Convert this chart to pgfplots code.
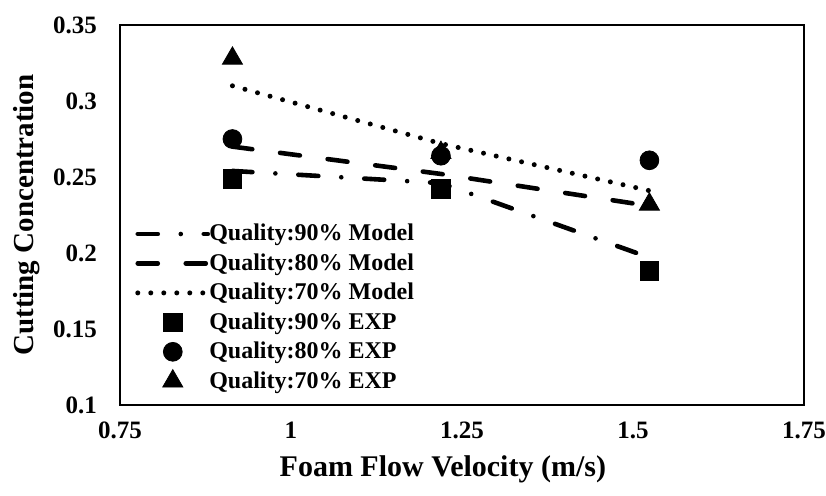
\documentclass[border=0pt]{standalone}
\usepackage{fontspec}
\setmainfont{Liberation Serif}
\usepackage{pgfplots}
\pgfplotsset{compat=1.18}
\pgfplotsset{
    markleg/.style={legend image code/.code={\draw[##1] plot coordinates {(17.5pt,0pt)};}},
}

\begin{document}
\begin{tikzpicture}
\begin{axis}[
    at={(0,0)}, anchor=south west,
    scale only axis,
    width=342pt, height=190pt,
    xmin=0.75, xmax=1.75,
    ymin=0.1, ymax=0.35,
    xtick={0.75,1,1.25,1.5,1.75},
    xticklabels={0.75,1,1.25,1.5,1.75},
    ytick={0.1,0.15,0.2,0.25,0.3,0.35},
    yticklabels={0.1,0.15,0.2,0.25,0.3,0.35},
    major tick length=0pt,
    axis line style={line width=1pt},
    ticklabel style={font=\fontsize{12.5}{14}\selectfont\bfseries},
    xticklabel style={yshift=-5pt},
    yticklabel style={xshift=-8pt},
    xlabel={Foam Flow Velocity (m/s)},
    ylabel={Cutting Concentration},
    label style={font=\fontsize{14.5}{16}\selectfont\bfseries},
    xlabel style={at={(axis description cs:0.472,-0.168)}, anchor=center,
        font=\fontsize{15}{17}\selectfont\bfseries},
    ylabel style={at={(axis description cs:-0.137,0.5)}, anchor=center},
    legend style={draw=none, fill=none, at={(axis description cs:0.013,0.498)},
        anchor=north west, font=\fontsize{12}{14}\selectfont\bfseries,
        row sep=0.9pt, column sep=-2.5pt, nodes={inner xsep=2pt}},
    legend cell align=left,
    legend image code/.code={\draw[#1, line cap=round] (0pt,0pt) -- (35pt,0pt);},
]
% model lines
\addplot[black, line width=2.3pt, line cap=round,
    dash pattern=on 10pt off 11.5pt on 0pt off 11.5pt]
    coordinates {(0.9144,0.254)(1.2192,0.246)(1.524,0.197)};
\addplot[black, line width=2.3pt, line cap=round,
    dash pattern=on 10pt off 14pt]
    coordinates {(0.9144,0.270)(1.2192,0.252)(1.524,0.231)};
\addplot[black, line width=2.5pt, line cap=round,
    dash pattern=on 0pt off 6.5pt]
    coordinates {(0.9144,0.310)(1.2192,0.272)(1.524,0.241)};
% experiments
\addplot[only marks, mark=square*, mark size=4.7pt, black, markleg]
    coordinates {(0.9144,0.249)(1.2192,0.242)(1.524,0.188)};
\addplot[only marks, mark=*, mark size=4.7pt, black, markleg]
    coordinates {(0.9144,0.275)(1.2192,0.264)(1.524,0.261)};
\addplot[only marks, mark=triangle*, mark size=5.8pt, black, markleg]
    coordinates {(0.9144,0.328)(1.2192,0.266)(1.524,0.232)};
\legend{Quality:90\% Model, Quality:80\% Model, Quality:70\% Model,
    Quality:90\% EXP, Quality:80\% EXP, Quality:70\% EXP}
\end{axis}
\pgfresetboundingbox
\path[use as bounding box] (-60pt,-45pt) rectangle (353pt,202.5pt);
\end{tikzpicture}
\end{document}
